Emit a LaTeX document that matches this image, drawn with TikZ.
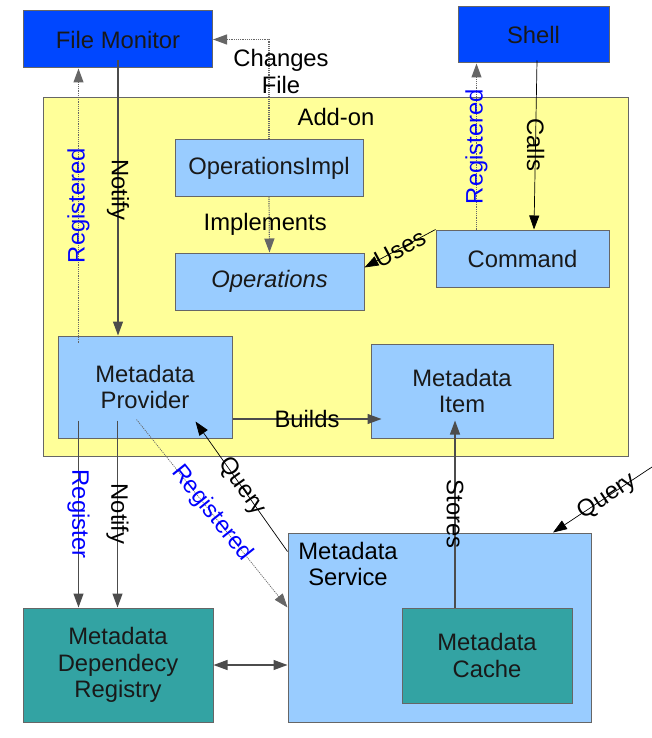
\documentclass[tikz,border=0pt]{standalone}
\usepackage{fontspec}
\setmainfont{Liberation Sans}
\usetikzlibrary{arrows.meta}

\definecolor{monitorblue}{RGB}{0,71,255}
\definecolor{partblue}{RGB}{153,204,255}
\definecolor{addonyellow}{RGB}{255,255,153}
\definecolor{cachegreen}{RGB}{51,163,163}
\definecolor{framegray}{RGB}{102,102,102}

\begin{document}
\begin{tikzpicture}[x=1pt,y=-1pt,
  font=\fontsize{23.8}{26.8}\selectfont,
  >={Triangle[length=14pt,width=10pt]},
  box/.style={draw=framegray,line width=1pt,inner sep=0pt,align=center,text=black!90},
  conn/.style={->,draw=black!70,line width=1.2pt},
  thinconn/.style={->,draw=black,line width=0.7pt},
  dotconn/.style={->,draw=black!60,line width=1.2pt,densely dotted},
  reg/.style={text=blue}]

  \useasboundingbox (0,0) rectangle (652,738);

  % outside parts
  \node[box,fill=monitorblue,minimum width=189pt,minimum height=57pt] (fm)    at (118,39.5)  {File Monitor};
  \node[box,fill=monitorblue,minimum width=151pt,minimum height=56pt] (shell) at (533.5,35)  {Shell};

  % the add-on
  \node[box,fill=addonyellow,minimum width=585pt,minimum height=358pt] (addon) at (335.5,277) {};
  \node (addonlbl) at (336,117) {Add-on};
  \node[box,fill=partblue,minimum width=188pt,minimum height=56pt]  (impl) at (269,168)   {OperationsImpl};
  \node[box,fill=partblue,minimum width=189pt,minimum height=57pt]  (ops)  at (269.5,281.5) {\itshape Operations};
  \node[box,fill=partblue,minimum width=173pt,minimum height=57pt]  (cmd)  at (522.5,258.5) {Command};
  \node[box,fill=partblue,minimum width=174pt,minimum height=102pt] (mp)   at (145,387)   {Metadata\\Provider};
  \node[box,fill=partblue,minimum width=182pt,minimum height=94pt]  (mi)   at (462,391)   {Metadata\\Item};

  % service side
  \node[box,fill=partblue,minimum width=303pt,minimum height=189pt] (ms) at (439.5,627.5) {};
  \node[align=center] (mslbl) at (348,564) {Metadata\\Service};
  \node[box,fill=cachegreen,minimum width=170pt,minimum height=95pt]  (mc)  at (487,655.5) {Metadata\\Cache};
  \node[box,fill=cachegreen,minimum width=190pt,minimum height=114pt] (mdr) at (118,665)   {Metadata\\Dependecy\\Registry};

  \coordinate (mpreg)  at ([xshift=21pt,yshift=-7pt]mp.north west);
  \coordinate (fmnote) at ([yshift=8pt]fm.south);
  \coordinate (mpreg2) at ([xshift=21pt,yshift=18pt]mp.south west);
  \coordinate (mpnote) at ([xshift=60pt,yshift=18pt]mp.south west);
  \coordinate (mpsrv)  at ([xshift=79pt,yshift=19pt]mp.south west);
  \coordinate (cmdreg) at ([xshift=41pt]cmd.north west);
  \coordinate (ext)    at (652,467);

  % connectors
  \draw[dotconn] (mpreg) -- (mpreg |- fm.south) node[midway,reg,rotate=90] {Registered};
  \draw[conn] (fmnote) -- (fmnote |- mp.north) node[pos=0.47,rotate=-90] {Notify};
  \draw[dotconn] (impl.north) |- (fm.east) node[pos=0.34,xshift=12pt,align=center] {Changes\\File};
  \draw[dotconn] (impl.south) -- (ops.north) node[midway,xshift=-4pt] {Implements};
  \draw[thinconn] (cmd.north west) -- ([yshift=14pt]ops.east) node[midway,sloped] {Uses};
  \draw[dotconn] (cmdreg) -- (cmdreg |- shell.south) node[midway,reg,rotate=90] {Registered};
  \draw[thinconn] ([xshift=3.5pt,yshift=3pt]shell.south) -- ([xshift=11.5pt]cmd.north) node[midway,rotate=-90] {Calls};
  \draw[conn] ([yshift=-32pt]mp.east) -- ([xshift=11pt,yshift=-28pt]mi.west) node[midway] {Builds};
  \draw[conn] (mpreg2) -- (mpreg2 |- mdr.north) node[midway,reg,rotate=-90] {Register};
  \draw[conn] (mpnote) -- (mpnote |- mdr.north) node[midway,rotate=-90] {Notify};
  \draw[dotconn,line width=0.7pt] (mpsrv) -- ([yshift=20pt]ms.west) node[midway,sloped,reg] {Registered};
  \draw[thinconn] ([yshift=-19pt]ms.north west) -- ([xshift=-37pt,yshift=17pt]mp.south east) node[midway,sloped] {Query};
  \draw[conn] ([xshift=-32pt]mc.north) -- ([xshift=-7pt,yshift=18pt]mi.south) node[midway,rotate=-90] {Stores};
  \draw[thinconn] (ext) -- ([xshift=113.5pt]ms.north) node[pos=0.45,sloped] {Query};
  \draw[conn,<->] (mdr.east) -- (mdr.east -| ms.west);
\end{tikzpicture}
\end{document}
